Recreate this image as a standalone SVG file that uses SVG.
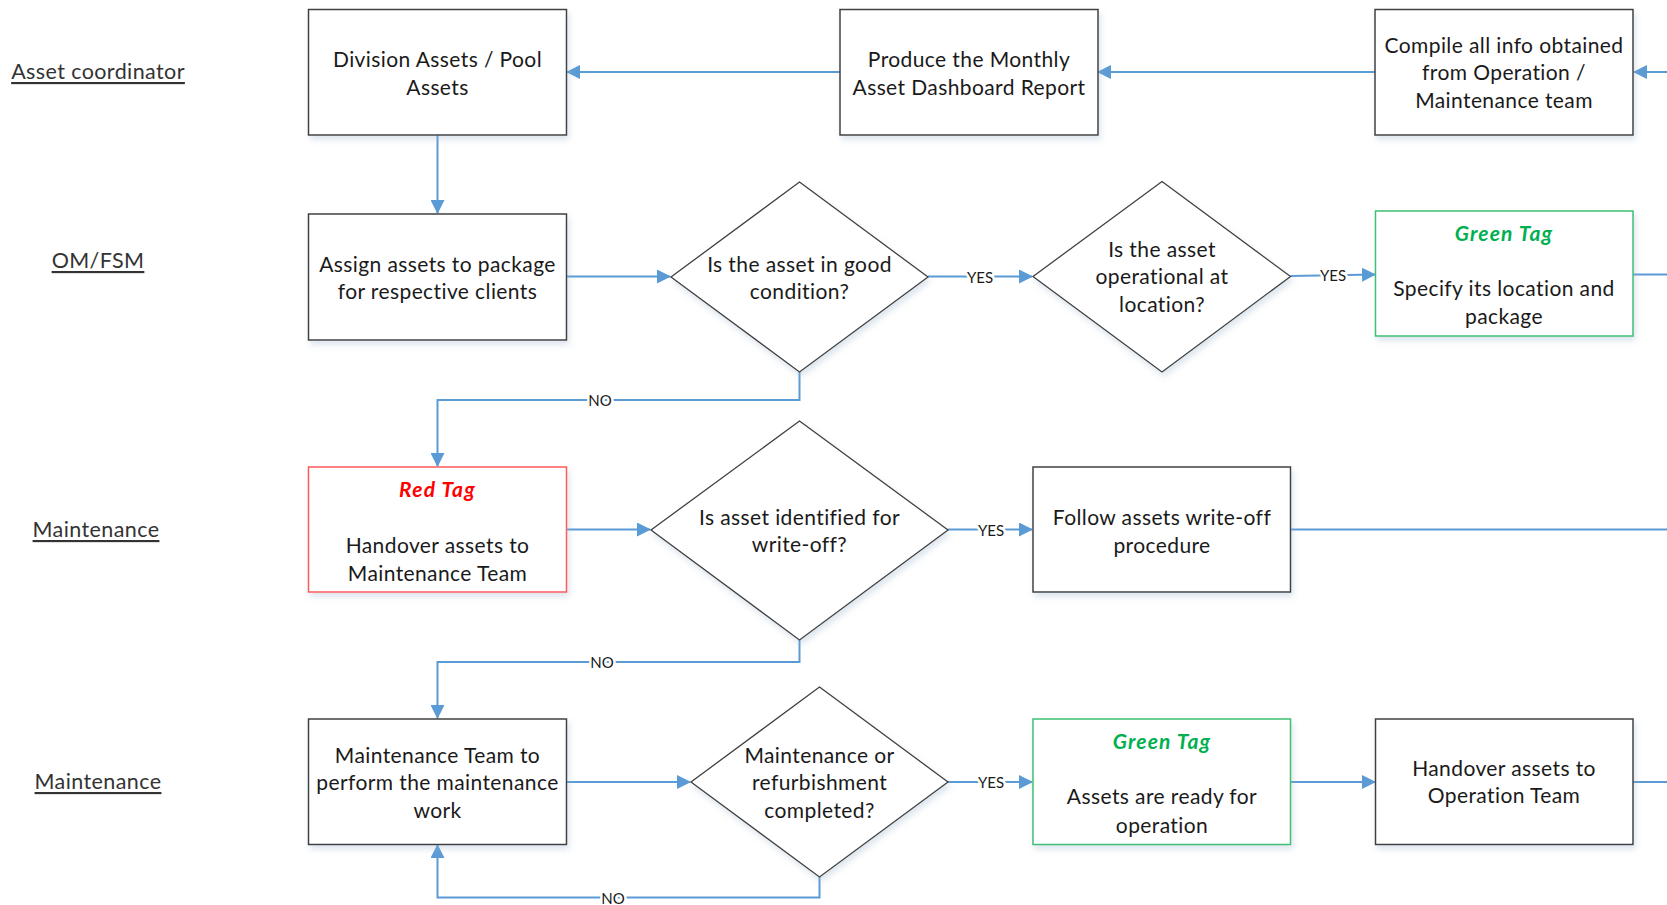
<svg xmlns="http://www.w3.org/2000/svg" width="1667" height="905" viewBox="0 0 1667 905">
<style>
.box{fill:#fff;stroke:#404040;stroke-width:1.5}
.red{fill:#fff;stroke:#ff5a5a;stroke-width:1.5}
.grn{fill:#fff;stroke:#3cc070;stroke-width:1.5}
.dia{fill:#fff;stroke:#404040;stroke-width:1.3}
.t{font-family:Lato,"Noto Sans",sans-serif;font-size:21px;letter-spacing:0.4px;fill:#1a1a1a;text-anchor:middle;dominant-baseline:central}
.lane{font-family:Lato,"Noto Sans",sans-serif;font-size:21.5px;letter-spacing:0.4px;fill:#333;text-anchor:middle;dominant-baseline:central;text-decoration:underline}
.tagr{font-family:Lato,"Noto Sans",sans-serif;font-size:21px;letter-spacing:1.2px;font-weight:bold;font-style:italic;fill:#ff0000;text-anchor:middle;dominant-baseline:central}
.tagg{font-family:Lato,"Noto Sans",sans-serif;font-size:21px;letter-spacing:1.2px;font-weight:bold;font-style:italic;fill:#00b050;text-anchor:middle;dominant-baseline:central}
.c{fill:none;stroke:#5b9bd5;stroke-width:2}
.lbl{font-family:Lato,"Noto Sans",sans-serif;font-size:15px;fill:#1a1a1a;text-anchor:middle;dominant-baseline:central;paint-order:stroke;stroke:#fff;stroke-width:5px}
</style>
<defs>
<marker id="ah" markerUnits="userSpaceOnUse" markerWidth="14" markerHeight="14" viewBox="0 0 14 14" refX="13" refY="7" orient="auto">
<path d="M0,0 L14,7 L0,14 Z" fill="#5b9bd5"/>
</marker>
<filter id="sh" x="-10%" y="-10%" width="125%" height="130%">
<feDropShadow dx="2" dy="4" stdDeviation="3" flood-color="#9db4cc" flood-opacity="0.35"/>
</filter>
</defs>
<rect width="1667" height="905" fill="#fff"/>

<g id="lanes">
<text class="lane" x="98" y="71">Asset coordinator</text>
<text class="lane" x="98" y="260">OM/FSM</text>
<text class="lane" x="96" y="529">Maintenance</text>
<text class="lane" x="98" y="781">Maintenance</text>
</g>

<g id="connectors">
<path class="c" d="M1667,72 L1634,72" marker-end="url(#ah)"/>
<path class="c" d="M1375,72 L1098,72" marker-end="url(#ah)"/>
<path class="c" d="M840,72 L567,72" marker-end="url(#ah)"/>
<path class="c" d="M437.5,135 L437.5,213" marker-end="url(#ah)"/>
<path class="c" d="M567,276.5 L670,276.5" marker-end="url(#ah)"/>
<path class="c" d="M928,276.5 L1032,276.5" marker-end="url(#ah)"/>
<path class="c" d="M1290.5,276 L1375,274.5" marker-end="url(#ah)"/>
<path class="c" d="M1633,274.5 L1667,274.5"/>
<path class="c" d="M799.5,372 L799.5,400 L437.5,400 L437.5,466" marker-end="url(#ah)"/>
<path class="c" d="M567,529.5 L650,529.5" marker-end="url(#ah)"/>
<path class="c" d="M948,529.5 L1032,529.5" marker-end="url(#ah)"/>
<path class="c" d="M1290.5,529.5 L1667,529.5"/>
<path class="c" d="M799.5,640 L799.5,662 L437.5,662 L437.5,718" marker-end="url(#ah)"/>
<path class="c" d="M567,782 L690,782" marker-end="url(#ah)"/>
<path class="c" d="M948,782 L1032,782" marker-end="url(#ah)"/>
<path class="c" d="M1290.5,782 L1375,782" marker-end="url(#ah)"/>
<path class="c" d="M1633,782 L1667,782"/>
<path class="c" d="M819.5,877 L819.5,897.5 L437.5,897.5 L437.5,845" marker-end="url(#ah)"/>
<text class="lbl" x="980" y="276.5">YES</text>
<text class="lbl" x="1333" y="275">YES</text>
<text class="lbl" x="600" y="400">NO</text>
<text class="lbl" x="991" y="529.5">YES</text>
<text class="lbl" x="602" y="662">NO</text>
<text class="lbl" x="991" y="782">YES</text>
<text class="lbl" x="613" y="897.5">NO</text>
</g>

<g id="division">
<rect class="box" filter="url(#sh)" x="308.5" y="9.5" width="258" height="125.5"/>
<text class="t" x="437.5" y="58.5">Division Assets / Pool</text>
<text class="t" x="437.5" y="86">Assets</text>
</g>
<g id="produce">
<rect class="box" filter="url(#sh)" x="840" y="9.5" width="258" height="125.5"/>
<text class="t" x="969" y="58.5">Produce the Monthly</text>
<text class="t" x="969" y="86">Asset Dashboard Report</text>
</g>
<g id="compile">
<rect class="box" filter="url(#sh)" x="1375" y="9.5" width="258" height="125.5"/>
<text class="t" x="1504" y="44">Compile all info obtained</text>
<text class="t" x="1504" y="71.5">from Operation /</text>
<text class="t" x="1504" y="99.5">Maintenance team</text>
</g>
<g id="assign">
<rect class="box" filter="url(#sh)" x="308.5" y="214" width="258" height="126"/>
<text class="t" x="437.5" y="263">Assign assets to package</text>
<text class="t" x="437.5" y="290.5">for respective clients</text>
</g>
<g id="d-good">
<polygon class="dia" filter="url(#sh)" points="799.5,182 928,277 799.5,372 671,277"/>
<text class="t" x="799.5" y="263">Is the asset in good</text>
<text class="t" x="799.5" y="290.5">condition?</text>
</g>
<g id="d-operational">
<polygon class="dia" filter="url(#sh)" points="1162,181.5 1290.5,276.5 1162,372 1033,276.5"/>
<text class="t" x="1162" y="248">Is the asset</text>
<text class="t" x="1162" y="275.5">operational at</text>
<text class="t" x="1162" y="303">location?</text>
</g>
<g id="green1">
<rect class="grn" filter="url(#sh)" x="1375.5" y="211" width="257.5" height="125"/>
<text class="tagg" x="1504" y="232">Green Tag</text>
<text class="t" x="1504" y="287">Specify its location and</text>
<text class="t" x="1504" y="315.5">package</text>
</g>
<g id="redtag">
<rect class="red" filter="url(#sh)" x="308.5" y="467" width="258" height="125"/>
<text class="tagr" x="437.5" y="488">Red Tag</text>
<text class="t" x="437.5" y="544.5">Handover assets to</text>
<text class="t" x="437.5" y="572">Maintenance Team</text>
</g>
<g id="d-writeoff">
<polygon class="dia" filter="url(#sh)" points="799.5,421 948,530 799.5,640 651,530"/>
<text class="t" x="799.5" y="516">Is asset identified for</text>
<text class="t" x="799.5" y="543.5">write-off?</text>
</g>
<g id="writeoff">
<rect class="box" filter="url(#sh)" x="1033" y="467" width="257.5" height="125"/>
<text class="t" x="1162" y="516">Follow assets write-off</text>
<text class="t" x="1162" y="544.5">procedure</text>
</g>
<g id="maint">
<rect class="box" filter="url(#sh)" x="308.5" y="719" width="258" height="125.5"/>
<text class="t" x="437.5" y="754">Maintenance Team to</text>
<text class="t" x="437.5" y="781.5">perform the maintenance</text>
<text class="t" x="437.5" y="809">work</text>
</g>
<g id="d-complete">
<polygon class="dia" filter="url(#sh)" points="819.5,687 948,782 819.5,877 691,782"/>
<text class="t" x="819.5" y="754">Maintenance or</text>
<text class="t" x="819.5" y="781.5">refurbishment</text>
<text class="t" x="819.5" y="809">completed?</text>
</g>
<g id="green2">
<rect class="grn" filter="url(#sh)" x="1033" y="719" width="257.5" height="125.5"/>
<text class="tagg" x="1162" y="740">Green Tag</text>
<text class="t" x="1162" y="795.5">Assets are ready for</text>
<text class="t" x="1162" y="824">operation</text>
</g>
<g id="handover">
<rect class="box" filter="url(#sh)" x="1375.5" y="719" width="257.5" height="125.5"/>
<text class="t" x="1504" y="767">Handover assets to</text>
<text class="t" x="1504" y="794.5">Operation Team</text>
</g>
</svg>
